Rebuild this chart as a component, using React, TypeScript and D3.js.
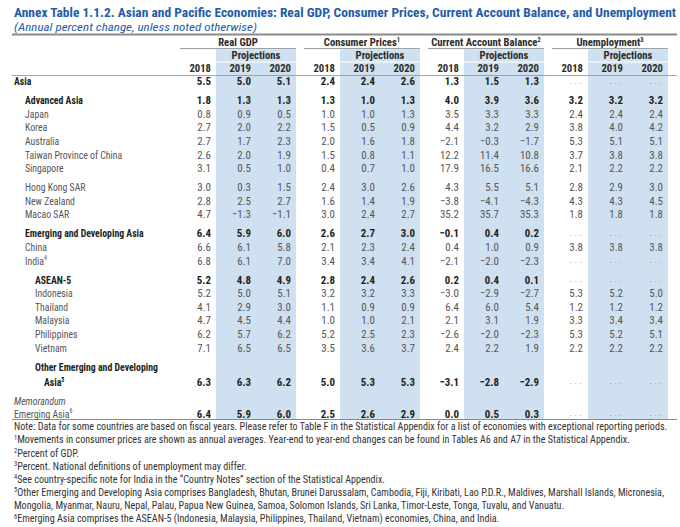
import React, { useEffect } from "react";
import * as d3 from "d3";

const title =
  "Annex Table 1.1.2. Asian and Pacific Economies: Real GDP, Consumer Prices, Current Account Balance, and Unemployment";
const subtitle = "(Annual percent change, unless noted otherwise)";
const groups = ["Real GDP", "Consumer Prices", "Current Account Balance", "Unemployment"];
const groupNotes = ["", "1", "2", "3"];
const years = ["2018", "2019", "2020"];
const projectionLabel = "Projections";

const economies = [
  "Asia",
  "Advanced Asia",
  "Japan",
  "Korea",
  "Australia",
  "Taiwan Province of China",
  "Singapore",
  "Hong Kong SAR",
  "New Zealand",
  "Macao SAR",
  "Emerging and Developing Asia",
  "China",
  "India",
  "ASEAN-5",
  "Indonesia",
  "Thailand",
  "Malaysia",
  "Philippines",
  "Vietnam",
  "Other Emerging and Developing Asia",
  "Emerging Asia",
];
const economyNotes = ["", "", "", "", "", "", "", "", "", "", "", "", "4", "", "", "", "", "", "", "5", "6"];

const realGDP: number[][] = [
  [5.5, 5.0, 5.1], [1.8, 1.3, 1.3], [0.8, 0.9, 0.5], [2.7, 2.0, 2.2], [2.7, 1.7, 2.3],
  [2.6, 2.0, 1.9], [3.1, 0.5, 1.0], [3.0, 0.3, 1.5], [2.8, 2.5, 2.7], [4.7, -1.3, -1.1],
  [6.4, 5.9, 6.0], [6.6, 6.1, 5.8], [6.8, 6.1, 7.0], [5.2, 4.8, 4.9], [5.2, 5.0, 5.1],
  [4.1, 2.9, 3.0], [4.7, 4.5, 4.4], [6.2, 5.7, 6.2], [7.1, 6.5, 6.5], [6.3, 6.3, 6.2],
  [6.4, 5.9, 6.0],
];
const consumerPrices: number[][] = [
  [2.4, 2.4, 2.6], [1.3, 1.0, 1.3], [1.0, 1.0, 1.3], [1.5, 0.5, 0.9], [2.0, 1.6, 1.8],
  [1.5, 0.8, 1.1], [0.4, 0.7, 1.0], [2.4, 3.0, 2.6], [1.6, 1.4, 1.9], [3.0, 2.4, 2.7],
  [2.6, 2.7, 3.0], [2.1, 2.3, 2.4], [3.4, 3.4, 4.1], [2.8, 2.4, 2.6], [3.2, 3.2, 3.3],
  [1.1, 0.9, 0.9], [1.0, 1.0, 2.1], [5.2, 2.5, 2.3], [3.5, 3.6, 3.7], [5.0, 5.3, 5.3],
  [2.5, 2.6, 2.9],
];
const currentAccount: number[][] = [
  [1.3, 1.5, 1.3], [4.0, 3.9, 3.6], [3.5, 3.3, 3.3], [4.4, 3.2, 2.9], [-2.1, -0.3, -1.7],
  [12.2, 11.4, 10.8], [17.9, 16.5, 16.6], [4.3, 5.5, 5.1], [-3.8, -4.1, -4.3], [35.2, 35.7, 35.3],
  [-0.1, 0.4, 0.2], [0.4, 1.0, 0.9], [-2.1, -2.0, -2.3], [0.2, 0.4, 0.1], [-3.0, -2.9, -2.7],
  [6.4, 6.0, 5.4], [2.1, 3.1, 1.9], [-2.6, -2.0, -2.3], [2.4, 2.2, 1.9], [-3.1, -2.8, -2.9],
  [0.0, 0.5, 0.3],
];
const unemployment: (number | null)[][] = [
  [null, null, null], [3.2, 3.2, 3.2], [2.4, 2.4, 2.4], [3.8, 4.0, 4.2], [5.3, 5.1, 5.1],
  [3.7, 3.8, 3.8], [2.1, 2.2, 2.2], [2.8, 2.9, 3.0], [4.3, 4.3, 4.5], [1.8, 1.8, 1.8],
  [null, null, null], [3.8, 3.8, 3.8], [null, null, null], [null, null, null], [5.3, 5.2, 5.0],
  [1.2, 1.2, 1.2], [3.3, 3.4, 3.4], [5.3, 5.2, 5.1], [2.2, 2.2, 2.2], [null, null, null],
  [null, null, null],
];

const memorandumLabel = "Memorandum";

const notes = [
  { sup: "", text: "Note: Data for some countries are based on fiscal years. Please refer to Table F in the Statistical Appendix for a list of economies with exceptional reporting periods." },
  { sup: "1", text: "Movements in consumer prices are shown as annual averages. Year-end to year-end changes can be found in Tables A6 and A7 in the Statistical Appendix." },
  { sup: "2", text: "Percent of GDP." },
  { sup: "3", text: "Percent. National definitions of unemployment may differ." },
  { sup: "4", text: "See country-specific note for India in the \u201cCountry Notes\u201d section of the Statistical Appendix." },
  { sup: "5", text: "Other Emerging and Developing Asia comprises Bangladesh, Bhutan, Brunei Darussalam, Cambodia, Fiji, Kiribati, Lao P.D.R., Maldives, Marshall Islands, Micronesia," },
  { sup: "", text: "Mongolia, Myanmar, Nauru, Nepal, Palau, Papua New Guinea, Samoa, Solomon Islands, Sri Lanka, Timor-Leste, Tonga, Tuvalu, and Vanuatu." },
  { sup: "6", text: "Emerging Asia comprises the ASEAN-5 (Indonesia, Malaysia, Philippines, Thailand, Vietnam) economies, China, and India." },
];

// ---------- styling / layout (kept apart from the data) ----------
const W = 680;
const H = 527;
const FONT = "'Roboto Condensed', 'Liberation Sans', sans-serif";
const BLUE = "#1f5ca8";
const SHADE = "#cfe1f1";
const DARK = "#231f20";
const GRAY = "#555557";
const RULE = "#8a8a8a";
const FS = 11.5; // table font size
const SX_LABEL = 0.85; // extra horizontal compression to imitate the condensed face
const SX_VAL = 0.95;
const SX_HEAD = 0.93;

const rowStyle: Record<string, { level: number; bold: boolean; gap: boolean; labelBold?: boolean }> = {
  "Asia": { level: 0, bold: true, gap: false },
  "Advanced Asia": { level: 1, bold: true, gap: true },
  "Hong Kong SAR": { level: 1, bold: false, gap: true },
  "Emerging and Developing Asia": { level: 1, bold: true, gap: true },
  "ASEAN-5": { level: 2, bold: true, gap: true },
  "Other Emerging and Developing Asia": { level: 2, bold: true, gap: true },
  "Emerging Asia": { level: 0, bold: true, gap: false, labelBold: false },
};
const level2 = new Set(["Indonesia", "Thailand", "Malaysia", "Philippines", "Vietnam"]);

type TProps = {
  x: number;
  y: number;
  sx: number;
  anchor?: "start" | "middle" | "end";
  children: React.ReactNode;
  [k: string]: any;
};
function T({ x, y, sx, anchor = "start", children, ...rest }: TProps) {
  return (
    <text transform={`translate(${x},${y}) scale(${sx},1)`} textAnchor={anchor} {...rest}>
      {children}
    </text>
  );
}

export default function App() {
  useEffect(() => {
    document.body.style.margin = "0";
  }, []);

  const groupScale = d3
    .scaleBand<string>()
    .domain(groups)
    .range([211, 211 + 124 * 4])
    .paddingInner(0)
    .paddingOuter(0);
  const yearOffset = d3.scaleOrdinal<string, number>().domain(years).range([0, 40, 80]);
  const gx = (g: string) => groupScale(g) as number;
  const colRight = (g: string, y: string) => gx(g) + yearOffset(y);
  const shadeLeft = (g: string) => gx(g) + 5;
  const shadeW = 80;
  const indentX = d3.scaleOrdinal<number, number>().domain([0, 1, 2]).range([14, 25, 35]);
  const fmt = d3.format(".1f");

  type Row = { name: string; note: string; vals: (number | null)[][] | null; y: number; y1?: number; style: any; memo?: boolean };
  const rows: Row[] = [];
  const rowH = 13.6;
  const gapH = 5.4;
  let y = 81;
  economies.forEach((name, i) => {
    const st = rowStyle[name] || { level: level2.has(name) ? 2 : 1, bold: false, gap: false };
    if (i > 0) y += rowH + (st.gap ? gapH : 0);
    if (name === "Emerging Asia") {
      y += gapH;
      rows.push({ name: memorandumLabel, note: "", vals: null, y, style: { level: 0 }, memo: true });
      y += 12.6;
    }
    const vals = [realGDP[i], consumerPrices[i], currentAccount[i], unemployment[i]];
    if (name === "Other Emerging and Developing Asia") {
      const y0 = y;
      y += 15.5;
      rows.push({ name, note: economyNotes[i], vals, y, y1: y0, style: st });
    } else {
      rows.push({ name, note: economyNotes[i], vals, y, style: st });
    }
  });
  const lastY = rows[rows.length - 1].y;
  const bottomRule = lastY + 6;

  const topRule = 34.5;
  const groupTitleY = 46;
  const groupLineY = 48.6;
  const projTop = 49.5;
  const projBot = 61.5;
  const yearsY = 72;
  const headerRule = 75.5;
  const dy = 4.1;

  return (
    <svg width={W} height={H} style={{ display: "block", background: "#fff" }} fontFamily={FONT}>
      <rect width={W} height={H} fill="#fff" />
      <text x={14} y={17} fill={BLUE} fontWeight="bold" fontSize={13.5} textLength={662} lengthAdjust="spacingAndGlyphs">
        {title}
      </text>
      <text x={14} y={30.5} fill={BLUE} fontStyle="italic" fontSize={11.5} textLength={243} lengthAdjust="spacingAndGlyphs">
        {subtitle}
      </text>

      {groups.map((g) => (
        <g key={"sh" + g}>
          <rect x={shadeLeft(g)} y={projTop} width={shadeW} height={projBot - projTop} fill={SHADE} />
          <rect x={shadeLeft(g)} y={projBot + 1} width={shadeW} height={bottomRule - projBot - 1} fill={SHADE} />
        </g>
      ))}

      <line x1={12} x2={677} y1={topRule} y2={topRule} stroke={RULE} strokeWidth={2} />
      {groups.map((g) => (
        <line key={"gl" + g} x1={gx(g) - 31} x2={gx(g) + 85} y1={groupLineY} y2={groupLineY} stroke={RULE} strokeWidth={0.9} />
      ))}
      <line x1={12} x2={677} y1={headerRule} y2={headerRule} stroke="#8f8f8f" strokeWidth={0.8} />
      <line x1={12} x2={677} y1={bottomRule} y2={bottomRule} stroke={RULE} strokeWidth={1} />

      {groups.map((g, gi) => (
        <g key={"h" + g} fill="#2b2b2b" fontWeight="bold" fontSize={FS}>
          <T x={gx(g) + 27} y={groupTitleY} sx={SX_HEAD} anchor="middle">
            {g}
            {groupNotes[gi] && (
              <tspan fontSize={7} dy={-4}>
                {groupNotes[gi]}
              </tspan>
            )}
          </T>
          <T x={shadeLeft(g) + shadeW / 2} y={projBot - 2.6} sx={SX_HEAD} anchor="middle">
            {projectionLabel}
          </T>
          {years.map((yr) => (
            <T key={yr} x={colRight(g, yr)} y={yearsY} sx={SX_HEAD} anchor="end">
              {yr}
            </T>
          ))}
        </g>
      ))}

      {rows.map((r) => {
        const lx = indentX(r.style.level);
        const labelBold = r.style.labelBold === undefined ? r.style.bold : r.style.labelBold;
        let label;
        if (r.memo) {
          label = (
            <T x={lx} y={r.y + dy} sx={SX_LABEL} fontStyle="italic" fill={GRAY} fontSize={FS}>
              {r.name}
            </T>
          );
        } else if (r.y1 !== undefined) {
          const words = r.name.split(" ");
          const first = words.slice(0, -1).join(" ");
          const last = words[words.length - 1];
          label = (
            <g fontWeight="bold" fill={DARK} fontSize={FS}>
              <T x={lx} y={r.y1 + dy} sx={SX_LABEL}>{first}</T>
              <T x={lx + 9} y={r.y + dy} sx={SX_LABEL}>
                {last}
                <tspan fontSize={7} dy={-4.5}>{r.note}</tspan>
              </T>
            </g>
          );
        } else {
          label = (
            <T x={lx} y={r.y + dy} sx={SX_LABEL} fontWeight={labelBold ? "bold" : "normal"} fill={labelBold ? DARK : GRAY} fontSize={FS}>
              {r.name}
              {r.note && (
                <tspan fontSize={7} dy={-4.5}>
                  {r.note}
                </tspan>
              )}
            </T>
          );
        }
        return (
          <g key={"r" + r.name}>
            {label}
            {r.vals &&
              groups.map((g, gi) =>
                years.map((yr, yi) => {
                  const v = r.vals![gi][yi];
                  const x = colRight(g, yr);
                  if (v === null) {
                    return (
                      <text key={g + yr} x={x + 1} y={r.y + 2.5} textAnchor="end" fill="#8a8a8a" fontSize={9} letterSpacing={2.4}>
                        {"..."}
                      </text>
                    );
                  }
                  return (
                    <T
                      key={g + yr}
                      x={x}
                      y={r.y + dy}
                      sx={SX_VAL}
                      anchor="end"
                      fill={r.style.bold ? DARK : GRAY}
                      fontWeight={r.style.bold ? "bold" : "normal"}
                      fontSize={FS}
                    >
                      {fmt(v)}
                    </T>
                  );
                })
              )}
          </g>
        );
      })}

      {notes.map((n, i) => (
        <text key={"n" + i} x={14} y={bottomRule + 10.8 + i * 13.1} fill="#333" fontSize={10.1}>
          {n.sup && (
            <tspan fontSize={6.5} dy={-3.5}>
              {n.sup}
            </tspan>
          )}
          <tspan dy={n.sup ? 3.5 : 0}>{n.text}</tspan>
        </text>
      ))}
    </svg>
  );
}
